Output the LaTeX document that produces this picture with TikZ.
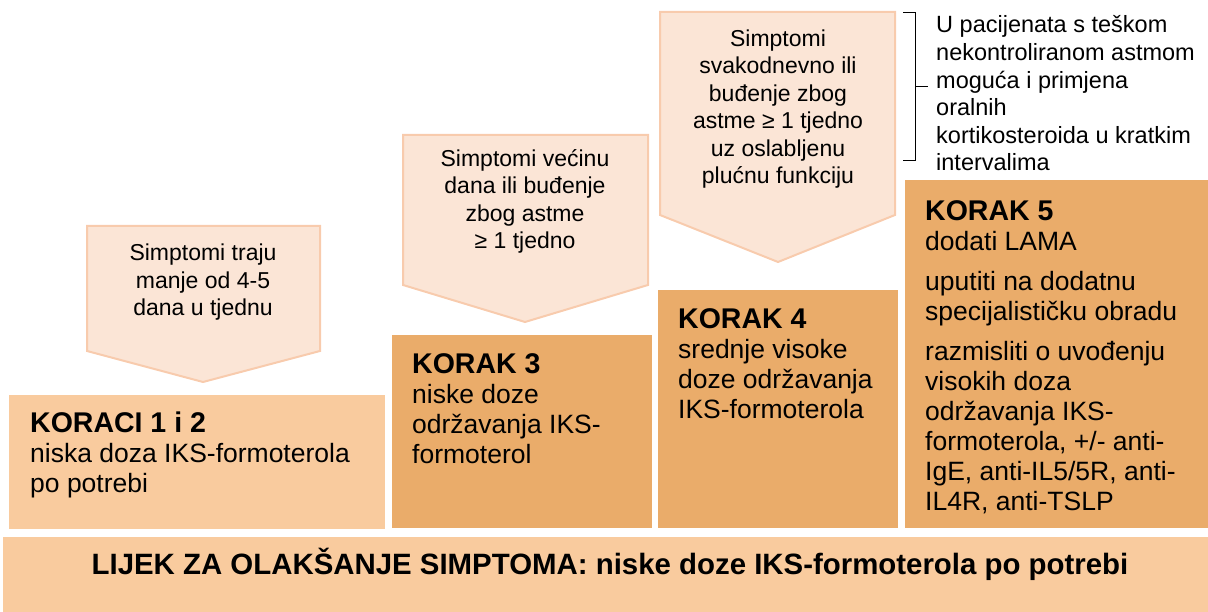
\documentclass[tikz,border=0pt]{standalone}
\usepackage{fontspec}
\setmainfont{Liberation Sans}
\usetikzlibrary{positioning}
\definecolor{svijetla}{HTML}{F9CB9E}
\definecolor{tamna}{HTML}{EAAC6A}
\definecolor{strelicapoz}{HTML}{FBE5D6}
\definecolor{strelicarub}{HTML}{F8CBAD}
\tikzstyle{pocetni} = [fill=svijetla]
\tikzstyle{korak} = [fill=tamna]
\tikzstyle{strelica} = [fill=strelicapoz, draw=strelicarub, line width=2pt]
\tikzstyle{simptom} = [align=center, inner sep=0pt, font=\fontsize{23}{27.5}\selectfont]
\tikzstyle{opis} = [align=left, inner sep=0pt, font=\fontsize{26.5}{30}\selectfont]
\tikzstyle{napomena} = [align=left, inner sep=0pt, font=\fontsize{23.5}{27.6}\selectfont]
\newcommand{\naslov}[1]{{\fontsize{28.5}{30}\selectfont\bfseries #1}}

\begin{document}
\begin{tikzpicture}[x=1pt, y=-1pt]
        \useasboundingbox (0,0) rectangle (1208,612);

        % stepenice
        \fill [pocetni] (3,537) rectangle (1208,612);
        \fill [pocetni] (9,395) rectangle (385,529);
        \fill [korak] (392,335) rectangle (652,528);
        \fill [korak] (658,290) rectangle (898,528);
        \fill [korak] (905,180) rectangle (1208,528);

        % strelice sa simptomima (base = zadnji redak)
        \draw [strelica] (87,226) -- (320,226) -- (320,351) -- (203,382) -- (87,351) -- cycle;
        \draw [strelica] (403,135) -- (648,135) -- (648,285) -- (525,322) -- (403,285) -- cycle;
        \draw [strelica] (660,12) -- (895,12) -- (895,215) -- (778,262) -- (660,215) -- cycle;

        \node (simptomi-1) [simptom, anchor=base] at (203,316) {Simptomi traju\\manje od 4-5\\dana u tjednu};
        \node (simptomi-3) [simptom, anchor=base] at (525,249) {Simptomi većinu\\dana ili buđenje\\zbog astme\\≥ 1 tjedno};
        \node (simptomi-4) [simptom, anchor=base] at (778,184) {Simptomi\\svakodnevno ili\\buđenje zbog\\astme ≥ 1 tjedno\\uz oslabljenu\\plućnu funkciju};

        \node (koraci-1-2) [opis, anchor=base west] at (30,492) {\naslov{KORACI 1 i 2}\\niska doza IKS-formoterola\\po potrebi};
        \node (korak-3) [opis, anchor=base west] at (412,463) {\naslov{KORAK 3}\\niske doze\\održavanja IKS-\\formoterol};
        \node (korak-4) [opis, anchor=base west] at (678,418) {\naslov{KORAK 4}\\srednje visoke\\doze održavanja\\IKS-formoterola};
        \node (korak-5) [opis, anchor=base west] at (925,510) {\naslov{KORAK 5}\\dodati LAMA\\[10pt]uputiti na dodatnu\\specijalističku obradu\\[10pt]razmisliti o uvođenju\\visokih doza\\održavanja IKS-\\formoterola, +/- anti-\\IgE, anti-IL5/5R, anti-\\IL4R, anti-TSLP};

        \node (olaksanje) [inner sep=0pt, font=\fontsize{29.4}{30}\selectfont\bfseries, anchor=base] at (610,574) {LIJEK ZA OLAKŠANJE SIMPTOMA: niske doze IKS-formoterola po potrebi};

        % zagrada s napomenom
        \node (napomena) [napomena, anchor=base west] at (936,171) {U pacijenata s teškom\\nekontroliranom astmom\\moguća i primjena\\oralnih\\kortikosteroida u kratkim\\intervalima};
        \coordinate (zagrada-vrh) at (903,13);
        \coordinate (zagrada-dno) at (903,161);
        \draw [line width=1pt] (zagrada-vrh) -- ++(12,0) -- ++(0,148) -- (zagrada-dno);
        \draw [line width=1pt] (915,87) -- (928,87);
    \end{tikzpicture}
\end{document}
